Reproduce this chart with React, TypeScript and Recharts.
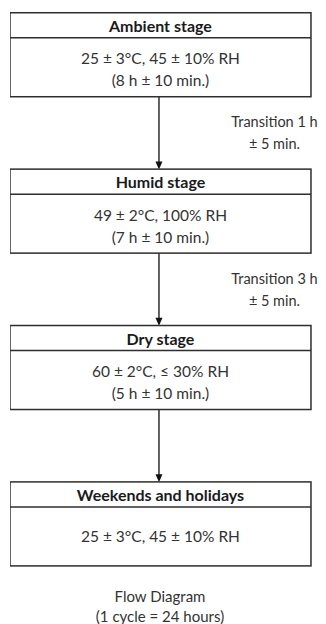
import { ScatterChart, Scatter, XAxis, YAxis } from "recharts"

if (typeof document !== "undefined") document.body.style.margin = "0"

const stageTitles = ["Ambient stage", "Humid stage", "Dry stage", "Weekends and holidays"]
const stageConditions = [
  "25 ± 3°C, 45 ± 10% RH",
  "49 ± 2°C, 100% RH",
  "60 ± 2°C, ≤ 30% RH",
  "25 ± 3°C, 45 ± 10% RH",
]
const stageDurations = ["(8 h ± 10 min.)", "(7 h ± 10 min.)", "(5 h ± 10 min.)", ""]
const transitionTimes = ["Transition 1 h", "Transition 3 h", ""]
const transitionTolerances = ["± 5 min.", "± 5 min.", ""]
const captionLines = ["Flow Diagram", "(1 cycle = 24 hours)"]

const stageData = stageTitles.map((title, i) => ({
  lane: 1,
  step: i,
  title,
  condition: stageConditions[i],
  duration: stageDurations[i],
}))

const transitionData = transitionTimes.map((time, i) => ({
  lane: 1,
  step: i + 0.5,
  time,
  tolerance: transitionTolerances[i],
}))

const FONT = "Lato, 'Open Sans', sans-serif"
const BOX_W = 301
const BOX_H = 84
const HEAD_H = 25
const STROKE = "#2e2e2e"
const TEXT = "#333333"

function StageBox(props: any) {
  const { cx, cy, payload } = props
  const x = cx - BOX_W / 2
  const top = cy - BOX_H / 2
  const bodyMid = top + HEAD_H + (BOX_H - HEAD_H) / 2
  const lines = payload.duration ? [payload.condition, payload.duration] : [payload.condition]
  return (
    <g>
      <rect x={x} y={top} width={BOX_W} height={BOX_H} fill="#fff" stroke={STROKE} strokeWidth={1.5} />
      <line x1={x} x2={x + BOX_W} y1={top + HEAD_H} y2={top + HEAD_H} stroke={STROKE} strokeWidth={1.5} />
      <text x={cx} y={top + HEAD_H / 2} textAnchor="middle" dominantBaseline="central"
        fontFamily={FONT} fontSize={16} fontWeight={700} fill="#1a1a1a">
        {payload.title}
      </text>
      {lines.map((t: string, k: number) => (
        <text key={k} x={cx}
          y={lines.length === 1 ? bodyMid : bodyMid + 2 + (k === 0 ? -11 : 11)}
          textAnchor="middle" dominantBaseline="central"
          fontFamily={FONT} fontSize={15.5} fill={TEXT}>
          {t}
        </text>
      ))}
    </g>
  )
}

function Connector(props: any) {
  const { cx, cy, payload } = props
  const half = 36.5
  const ax = cx - 1.5
  return (
    <g>
      <line x1={ax} x2={ax} y1={cy - half} y2={cy + half - 7} stroke={STROKE} strokeWidth={1.5} />
      <path d={`M${ax - 3.5},${cy + half - 8} L${ax + 3.5},${cy + half - 8} L${ax},${cy + half} Z`} fill="#111" />
      {payload.time && (
        <g fontFamily={FONT} fontSize={14.5} fill={TEXT} textAnchor="middle">
          <text x={cx + 114} y={cy - 11} dominantBaseline="central">{payload.time}</text>
          <text x={cx + 114} y={cy + 11} dominantBaseline="central">{payload.tolerance}</text>
        </g>
      )}
    </g>
  )
}

export default function App() {
  return (
    <div style={{ position: "relative", width: 326, height: 624, background: "#fff" }}>
      <ScatterChart width={326} height={624} margin={{ top: 0, right: 0, bottom: 0, left: 10 }}>
        <XAxis type="number" dataKey="lane" domain={[0, 2.1]} allowDataOverflow hide />
        <YAxis type="number" dataKey="step" domain={[-0.35, 3.64]} allowDataOverflow reversed hide />
        <Scatter data={transitionData} shape={<Connector />} isAnimationActive={false} />
        <Scatter data={stageData} shape={<StageBox />} isAnimationActive={false} />
      </ScatterChart>
      <div style={{
        position: "absolute", left: 0, top: 586, width: 320, textAlign: "center",
        fontFamily: FONT, fontSize: 15, lineHeight: "20px", color: TEXT,
      }}>
        {captionLines.map((t) => <div key={t}>{t}</div>)}
      </div>
    </div>
  )
}
